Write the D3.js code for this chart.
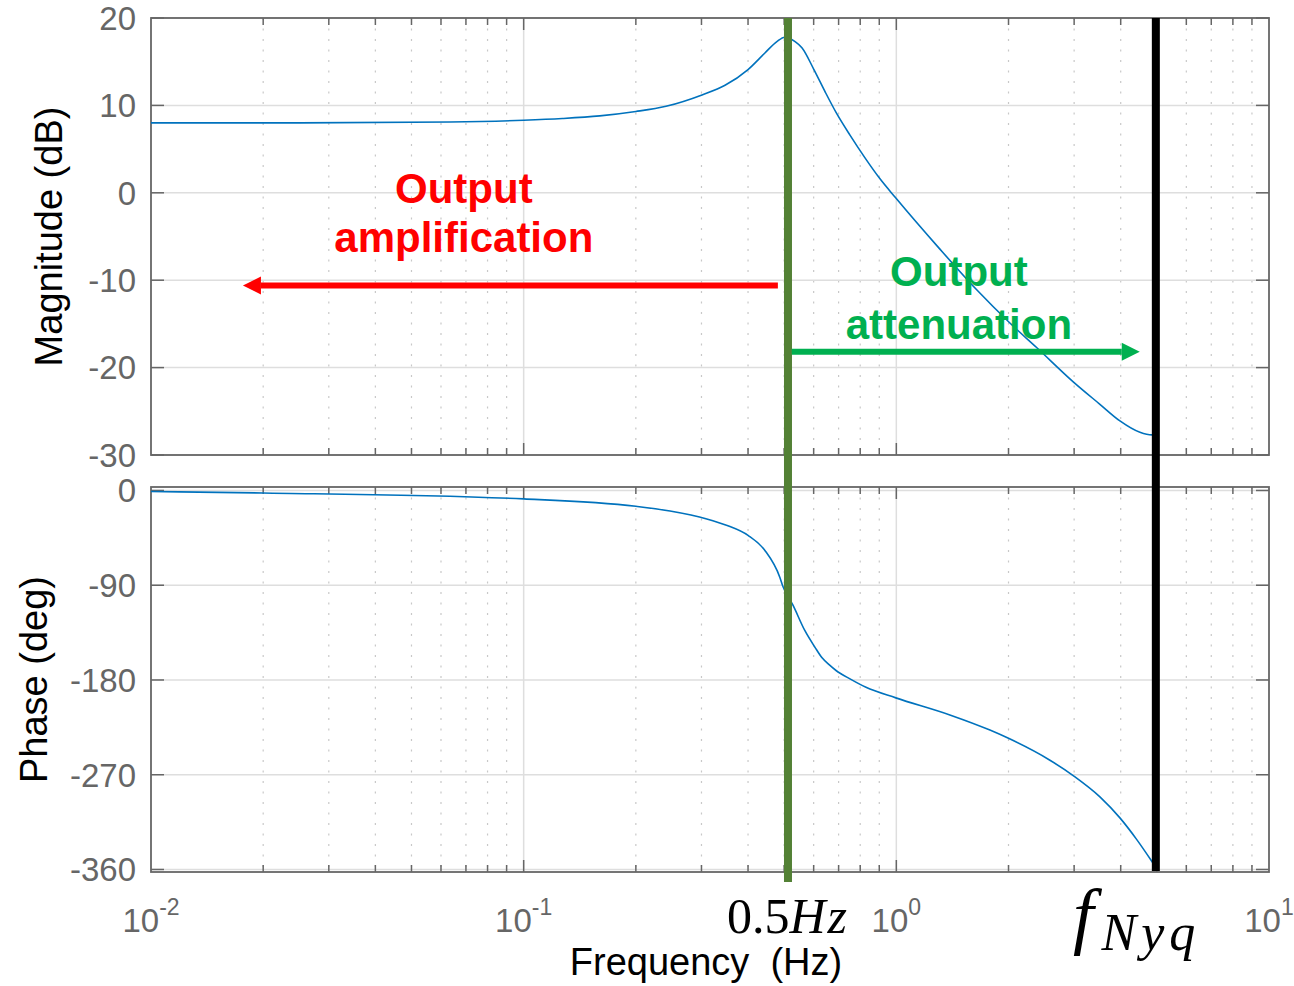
<!DOCTYPE html>
<html lang="en">
<head>
<meta charset="UTF-8">
<title>Bode plot with cut-off and Nyquist</title>
<script src="https://cdn.jsdelivr.net/npm/d3@7"></script>
<style>
  body { margin: 0; background: #fff; }
  svg { display: block; font-family: "Liberation Sans", Arial, sans-serif; }
</style>
</head>
<body>
<div id="chart"></div>
<script>
// magnitude curve (Hz, dB)
var magFreq = [0.01, 0.0251, 0.0634, 0.1, 0.127, 0.160, 0.200, 0.241, 0.301, 0.347, 0.400, 0.444, 0.478, 0.502,
               0.535, 0.558, 0.601, 0.645, 0.689, 0.751, 0.824, 0.904, 0.997, 1.30, 1.643, 2.017, 2.379, 2.978,
               3.518, 3.981, 4.504, 4.851, 4.97];
var magDb = [8.0, 8.0, 8.1, 8.3, 8.5, 8.8, 9.3, 9.9, 11.2, 12.3, 14.1, 16.0, 17.3, 17.8,
             17.3, 16.6, 14.1, 11.5, 9.2, 6.6, 4.0, 1.6, -0.6, -6.3, -11.1, -14.9, -17.7, -21.6,
             -24.2, -26.1, -27.4, -27.7, -27.7];

// phase curve (Hz, deg)
var phaseFreq = [0.01, 0.02, 0.1, 0.2, 0.247, 0.310, 0.350, 0.400, 0.444, 0.487, 0.496, 0.528, 0.568, 0.605, 0.632,
                 0.660, 0.689, 0.751, 0.829, 0.997, 1.392, 1.783, 1.993, 2.583, 3.015, 3.518, 3.981, 4.413, 4.842, 4.97];
var phaseDeg = [-1.0, -2.4, -8.0, -15.0, -19.5, -27, -33, -42.7, -57, -82.6, -91, -109, -133, -149, -159,
                -165.5, -171, -179, -187, -197, -213.2, -227.6, -235.2, -256.2, -272, -291, -311, -331.4, -352, -358];

var magTicks = [20, 10, 0, -10, -20, -30];
var phaseTicks = [0, -90, -180, -270, -360];
var decades = [0.01, 0.1, 1, 10];
var decadeExp = ["-2", "-1", "0", "1"];

var cutFreq = 0.512;     // green marker
var nyqFreq = 4.97;      // black marker

var width = 1294, height = 986;
var svg = d3.select("#chart").append("svg")
    .attr("width", width)
    .attr("height", height);

var x = d3.scaleLog().domain([0.01, 10]).range([151, 1269]);
var yMag = d3.scaleLinear().domain([-30, 20]).range([455, 18]);
var yPh = d3.scaleLinear().domain([-362.4, 3.3]).range([872, 487]);

// minor frequencies 2..9 of every decade
var minorFreq = [];
decades.slice(0, 3).forEach(d => d3.range(2, 10).forEach(k => minorFreq.push(d * k)));

function drawPanel(y, ticks) {
    var g = svg.append("g");
    var top = y.range()[1], bot = y.range()[0];
    var left = x.range()[0], right = x.range()[1];

    // dotted minor grid
    g.selectAll(".minor").data(minorFreq).enter().append("line")
        .attr("x1", d => x(d)).attr("x2", d => x(d))
        .attr("y1", top).attr("y2", bot)
        .attr("stroke", "#c8c8c8").attr("stroke-width", 1.2)
        .attr("stroke-dasharray", "2,8.5");

    // major grid
    g.selectAll(".vmaj").data([0.1, 1]).enter().append("line")
        .attr("x1", d => x(d)).attr("x2", d => x(d))
        .attr("y1", top).attr("y2", bot)
        .attr("stroke", "#dedede").attr("stroke-width", 1.5);
    g.selectAll(".hmaj").data(ticks).enter().append("line")
        .attr("x1", left).attr("x2", right)
        .attr("y1", d => y(d)).attr("y2", d => y(d))
        .attr("stroke", "#dedede").attr("stroke-width", 1.5);

    // ticks on all four sides, pointing inwards
    [left, right].forEach(function (sx) {
        var dir = sx === left ? 1 : -1;
        g.selectAll(null).data(ticks).enter().append("line")
            .attr("x1", sx).attr("x2", sx + dir * 13)
            .attr("y1", d => y(d)).attr("y2", d => y(d))
            .attr("stroke", "#666").attr("stroke-width", 1.5);
    });
    [top, bot].forEach(function (sy) {
        var dir = sy === top ? 1 : -1;
        g.selectAll(null).data(minorFreq).enter().append("line")
            .attr("x1", d => x(d)).attr("x2", d => x(d))
            .attr("y1", sy).attr("y2", sy + dir * 7)
            .attr("stroke", "#666").attr("stroke-width", 1.5);
        g.selectAll(null).data([0.1, 1]).enter().append("line")
            .attr("x1", d => x(d)).attr("x2", d => x(d))
            .attr("y1", sy).attr("y2", sy + dir * 12)
            .attr("stroke", "#666").attr("stroke-width", 1.5);
    });

    g.append("rect")
        .attr("x", left).attr("y", top)
        .attr("width", right - left).attr("height", bot - top)
        .attr("fill", "none").attr("stroke", "#666").attr("stroke-width", 1.8);

    // tick labels
    g.selectAll(".ylab").data(ticks).enter().append("text")
        .attr("x", 136).attr("y", d => y(d))
        .attr("dy", "0.36em")
        .attr("text-anchor", "end")
        .attr("font-size", 33)
        .attr("fill", "#666")
        .text(d => d);
    return g;
}

drawPanel(yMag, magTicks);
drawPanel(yPh, phaseTicks);

// response curves
var magLine = d3.line()
    .x((d, i) => x(magFreq[i]))
    .y(d => yMag(d))
    .curve(d3.curveMonotoneX);
svg.append("path")
    .attr("d", magLine(magDb))
    .attr("fill", "none").attr("stroke", "#0072BD").attr("stroke-width", 1.6);

var phLine = d3.line()
    .x((d, i) => x(phaseFreq[i]))
    .y(d => yPh(d))
    .curve(d3.curveMonotoneX);
svg.append("path")
    .attr("d", phLine(phaseDeg))
    .attr("fill", "none").attr("stroke", "#0072BD").attr("stroke-width", 1.6);

// x tick labels 10^n
decades.forEach(function (d, i) {
    var t = svg.append("text")
        .attr("x", x(d)).attr("y", 932)
        .attr("text-anchor", "middle")
        .attr("font-size", 33)
        .attr("fill", "#666");
    t.append("tspan").text("10");
    t.append("tspan").attr("dy", -17).attr("font-size", 23).text(decadeExp[i]);
});

// axis titles
svg.append("text")
    .attr("transform", "translate(49," + ((yMag.range()[0] + yMag.range()[1]) / 2) + ") rotate(-90)")
    .attr("dy", "0.35em")
    .attr("text-anchor", "middle")
    .attr("font-size", 38)
    .attr("fill", "#000")
    .text("Magnitude (dB)");
svg.append("text")
    .attr("transform", "translate(34," + ((yPh.range()[0] + yPh.range()[1]) / 2) + ") rotate(-90)")
    .attr("dy", "0.35em")
    .attr("text-anchor", "middle")
    .attr("font-size", 38)
    .attr("fill", "#000")
    .text("Phase (deg)");
svg.append("text")
    .attr("x", 706).attr("y", 975)
    .attr("text-anchor", "middle")
    .attr("font-size", 38)
    .attr("fill", "#000")
    .style("white-space", "pre")
    .text("Frequency  (Hz)");

// marker lines
svg.append("line")
    .attr("x1", x(cutFreq)).attr("x2", x(cutFreq))
    .attr("y1", 18).attr("y2", 882)
    .attr("stroke", "#538135").attr("stroke-width", 8);
svg.append("line")
    .attr("x1", x(nyqFreq)).attr("x2", x(nyqFreq))
    .attr("y1", 18).attr("y2", 871)
    .attr("stroke", "#000").attr("stroke-width", 8);

// arrows
function arrow(f0, f1, db, color) {
    var x0 = x(f0), x1 = x(f1), yy = yMag(db);
    var dir = x1 > x0 ? 1 : -1;
    var head = 18, half = 9;
    svg.append("line")
        .attr("x1", x0).attr("x2", x1 - dir * head)
        .attr("y1", yy).attr("y2", yy)
        .attr("stroke", color).attr("stroke-width", 6);
    svg.append("path")
        .attr("d", "M" + x1 + "," + yy + "L" + (x1 - dir * head) + "," + (yy - half) +
                   "L" + (x1 - dir * head) + "," + (yy + half) + "Z")
        .attr("fill", color);
}
arrow(0.481, 0.01765, -10.6, "#FF0000");
arrow(0.524, 4.50, -18.2, "#00B050");

// annotation text
function label(f, db, str, color) {
    svg.append("text")
        .attr("x", x(f)).attr("y", yMag(db))
        .attr("text-anchor", "middle")
        .attr("font-size", 42)
        .attr("font-weight", "bold")
        .attr("fill", color)
        .text(str);
}
label(0.0691, -1.14, "Output", "#FF0000");
label(0.0691, -6.74, "amplification", "#FF0000");
label(1.472, -10.7, "Output", "#00B050");
label(1.472, -16.7, "attenuation", "#00B050");

// math-style labels under the axis
var half = svg.append("text")
    .attr("x", x(cutFreq)).attr("y", 933)
    .attr("text-anchor", "middle")
    .attr("font-family", "'Liberation Serif', 'DejaVu Serif', serif")
    .attr("font-size", 50)
    .attr("fill", "#000");
half.append("tspan").text("0.5");
half.append("tspan").attr("font-style", "italic").attr("letter-spacing", 2).text("Hz");

var nyq = svg.append("text")
    .attr("x", 1073).attr("y", 940)
    .attr("font-family", "'Liberation Serif', 'DejaVu Serif', serif")
    .attr("font-style", "italic")
    .attr("fill", "#000");
nyq.append("tspan").attr("font-size", 74).text("f");
nyq.append("tspan").attr("font-size", 52).attr("dy", 10).attr("dx", 8)
    .attr("letter-spacing", 5).text("Nyq");
</script>
</body>
</html>
